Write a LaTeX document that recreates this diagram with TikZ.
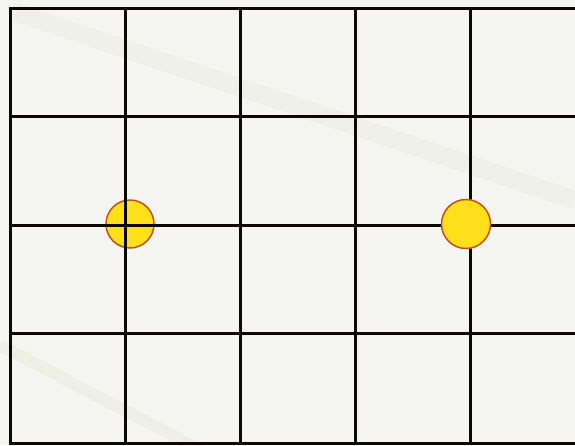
\documentclass[tikz,border=0pt]{standalone}
\begin{document}
\begin{tikzpicture}[x=1pt,y=-1pt,
  gridline/.style={line width=3pt,color={rgb,255:red,12;green,8;blue,6}},
  dot/.style={circle,minimum size=48pt,inner sep=0pt,fill={rgb,255:red,255;green,224;blue,26},draw={rgb,255:red,200;green,80;blue,20},line width=1.5pt}]
\useasboundingbox (0,0) rectangle (575,445);
\fill[color={rgb,255:red,245;green,246;blue,241}] (0,0) rectangle (575,445);
% streaks
\draw[line width=18pt,color={rgb,255:red,236;green,237;blue,228},opacity=0.6] (15,12) -- (575,200);
\draw[line width=12pt,color={rgb,255:red,236;green,237;blue,228},opacity=0.7] (0,345) -- (200,450);
% grid
\foreach \x/\n in {10/v0,125/v1,240/v2,355/v3,470/v4}{
  \coordinate (\n t) at (\x,8);
  \coordinate (\n b) at (\x,445);
  \draw[gridline] (\n t) -- (\n b);
}
\foreach \y/\n in {8/h0,116/h1,225/h2,333/h3,443/h4}{
  \coordinate (\n l) at (8.5,\y);
  \coordinate (\n r) at (575,\y);
  \draw[gridline] (\n l) -- (\n r);
}
\node[dot] (c1) at (130,224) {};
\coordinate (h2m) at (240,225);
\draw[gridline] (v1t) -- (v1b);
\draw[gridline] (h2l) -- (h2m);
\node[dot,minimum size=49pt] (c2) at (466,224) {};
\end{tikzpicture}
\end{document}
